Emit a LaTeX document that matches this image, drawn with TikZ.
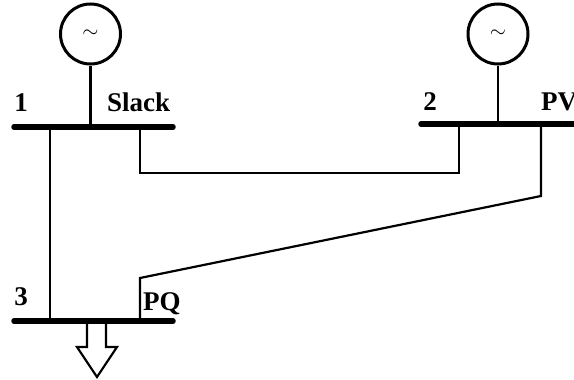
\documentclass[tikz,border=0pt]{standalone}
\usepackage{fontspec}
\setmainfont{Liberation Serif}
\tikzset{
  bus/.style={line width=5.5pt,line cap=round},
  wire/.style={line width=2.2pt},
  gen/.style={circle,draw,line width=3pt,minimum size=60pt,inner sep=0pt},
  lbl/.style={font=\bfseries\fontsize{27}{27}\selectfont,inner sep=0pt,anchor=base west}
}
\begin{document}
\begin{tikzpicture}[x=1pt,y=-1pt]
\useasboundingbox (0,0) rectangle (574,380);
\begin{scope}
\clip (0,0) rectangle (574,380);
% buses
\draw[bus](14,127)coordinate(b1w)--(173,127)coordinate(b1e);
\draw[bus](421,124)coordinate(b2w)--(590,124)coordinate(b2e);
\draw[bus](14,321)coordinate(b3w)--(173,321)coordinate(b3e);
% generators
\node[gen](g1) at (90.5,34) {\fontsize{22}{22}\selectfont$\sim$};
\node[gen](g2) at (498,34) {\fontsize{22}{22}\selectfont$\sim$};
\draw[wire,line width=2.8pt](g1.south)--(g1.south |- b1w);
\draw[wire,line width=2.8pt](g2.south)--(g2.south |- b2w);
% labels
\node[lbl,anchor=base](n1) at (21,111) {1};
\node[lbl](s1) at (107,111) {Slack};
\node[lbl,anchor=base](n2) at (430,110) {2};
\node[lbl](s2) at (541,110) {PV};
\node[lbl,anchor=base](n3) at (21,305) {3};
\node[lbl](s3) at (143,310) {PQ};
% lines
\coordinate(t1a) at (50,127);
\coordinate(t1b) at (140,127);
\coordinate(t2a) at (459,124);
\coordinate(t2b) at (541,124);
\coordinate(t3a) at (50,321);
\coordinate(t3b) at (140,321);
\draw[wire](t1a)--(t3a);
\draw[wire](t1b)--++(0,46)coordinate(k1)--(k1 -| t2a)--(t2a);
\draw[wire](t2b)--++(0,72)coordinate(k2)--(140,278)coordinate(k3)--(t3b);
% load
\draw[wire](87,321)--++(0,26)--++(-10,0)--++(20,30)coordinate(ld)--++(20,-30)--++(-11,0)--++(0,-26);
\end{scope}
\end{tikzpicture}
\end{document}
